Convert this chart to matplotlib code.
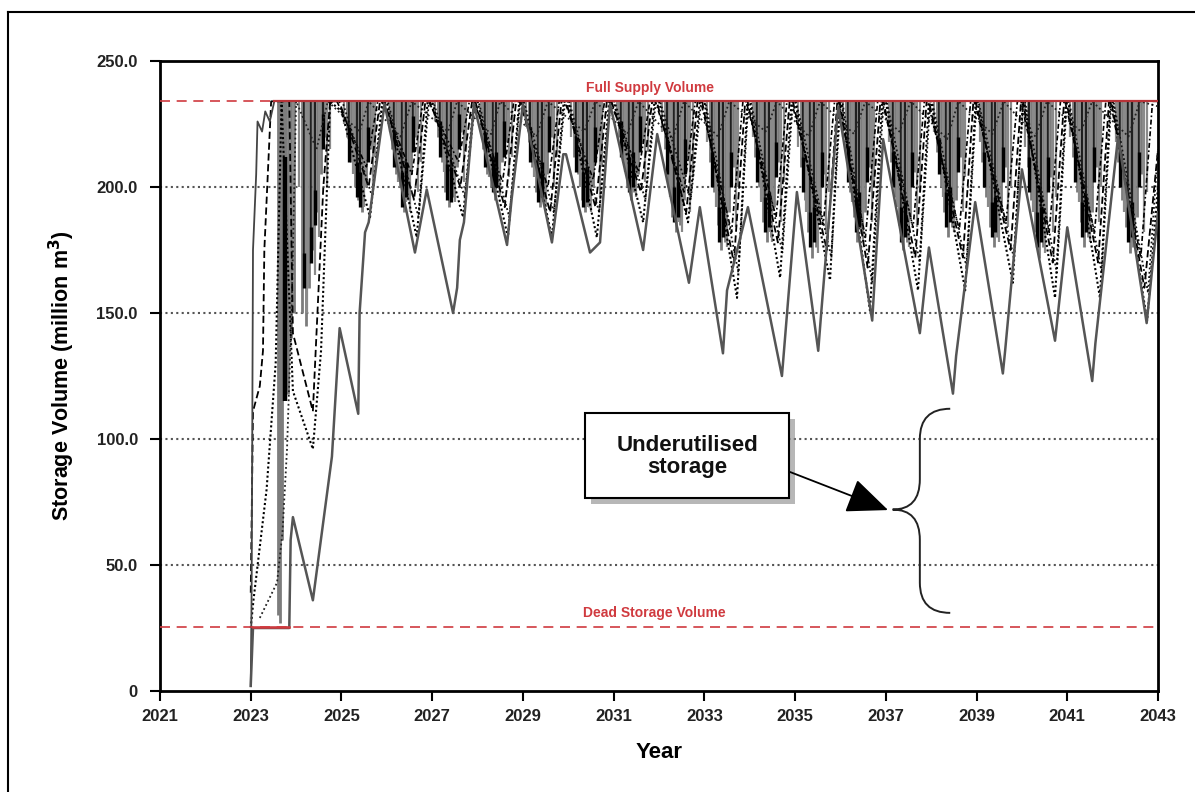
import matplotlib
matplotlib.use('Agg')
import matplotlib.pyplot as plt
from matplotlib.path import Path
from matplotlib.patches import PathPatch, Rectangle
from matplotlib.lines import Line2D
import matplotlib.patheffects as pe

plt.rcParams['font.family'] = ['Liberation Sans', 'DejaVu Sans']
plt.rcParams['font.weight'] = 'bold'

# ---------------- data ----------------
full_supply = 234.0
dead_storage = 25.5

# lowest trace (solid grey)
min_t = [2023.00, 2023.05, 2023.85, 2023.88, 2023.93, 2024.37, 2024.79, 2024.96, 2025.37, 2025.40,
         2025.52, 2025.60, 2025.95, 2026.62, 2026.88, 2027.46, 2027.55, 2027.61, 2027.70, 2027.92,
         2028.65, 2028.75, 2029.00, 2029.64, 2029.89, 2029.95, 2030.48, 2030.70, 2030.92, 2031.65,
         2031.96, 2032.66, 2032.90, 2033.41, 2033.50, 2033.96, 2034.71, 2035.04, 2035.51, 2035.58,
         2035.95, 2036.70, 2036.94, 2037.75, 2037.95, 2038.48, 2038.55, 2038.97, 2039.58, 2039.63,
         2040.00, 2040.73, 2041.00, 2041.55, 2041.62, 2042.12, 2042.75, 2043.00]
min_v = [2, 25, 25, 60, 69, 36, 93, 144, 110, 150,
         182, 186, 233, 174, 199, 150, 160, 179, 186, 233,
         177, 195, 233, 178, 213, 213, 174, 178, 233, 175,
         221, 162, 192, 134, 159, 192, 125, 198, 135, 151,
         232, 147, 219, 142, 176, 118, 133, 194, 126, 135,
         207, 139, 184, 123, 138, 220, 146, 190]

# highest trace (solid)
max_t = [2023.00, 2023.02, 2023.05, 2023.12, 2023.15, 2023.25, 2023.32, 2023.42, 2023.52]
max_v = [2, 40, 175, 205, 226, 222, 230, 226, 234]

# second-lowest trace (dotted)
lo2_t = [2023.00, 2023.06, 2023.35, 2023.55, 2023.68, 2023.93, 2024.37, 2024.55, 2024.75, 2025.00,
         2025.63, 2025.90, 2026.00, 2026.66, 2026.90, 2027.00, 2027.68, 2027.92, 2028.00, 2028.67,
         2028.92, 2029.00, 2029.64, 2029.90, 2030.00, 2030.63, 2030.90, 2031.00, 2031.65, 2031.90,
         2032.00, 2032.64, 2032.90, 2033.00, 2033.72, 2033.95, 2034.00, 2034.67, 2034.92, 2035.00,
         2035.77, 2035.98, 2036.02, 2036.65, 2036.92, 2037.00, 2037.71, 2037.95, 2038.00, 2038.75,
         2038.98, 2039.02, 2039.80, 2040.02, 2040.05, 2040.73, 2040.97, 2041.02, 2041.72, 2041.95,
         2042.00, 2042.76, 2043.00]
lo2_v = [25, 36, 80, 130, 234, 119, 96, 135, 234, 230,
         188, 234, 234, 180, 234, 234, 188, 234, 234, 180,
         234, 234, 180, 234, 234, 180, 234, 234, 186, 234,
         234, 186, 234, 234, 156, 234, 234, 164, 234, 234,
         163, 234, 234, 151, 234, 234, 159, 234, 234, 159,
         234, 234, 162, 234, 234, 156, 234, 234, 156, 234,
         234, 147, 200]

# companion dotted trace just inside the second-lowest one
lo2b_t = [2024.80, 2025.02, 2025.68, 2025.92, 2026.02, 2026.70, 2026.93, 2027.02, 2027.72, 2027.95,
          2028.02, 2028.70, 2028.94, 2029.02, 2029.68, 2029.93, 2030.02, 2030.68, 2030.93, 2031.02,
          2031.70, 2031.93, 2032.02, 2032.70, 2032.93, 2033.02, 2033.75, 2033.97, 2034.02, 2034.72,
          2034.95, 2035.02, 2035.80, 2036.00, 2036.04, 2036.70, 2036.95, 2037.02, 2037.75, 2037.98,
          2038.02, 2038.78, 2039.00, 2039.04, 2039.82, 2040.03, 2040.07, 2040.77, 2040.99, 2041.04,
          2041.76, 2041.97, 2042.02, 2042.78, 2043.00]
lo2b_v = [234, 234, 196, 234, 234, 188, 234, 234, 196, 234,
          234, 188, 234, 234, 190, 234, 234, 190, 234, 234,
          195, 234, 234, 195, 234, 234, 166, 234, 234, 174,
          234, 234, 172, 234, 234, 162, 234, 234, 170, 234,
          234, 168, 234, 234, 172, 234, 234, 166, 234, 234,
          166, 234, 234, 158, 215]

# third trace (dashed)
lo3_t = [2023.00, 2023.05, 2023.20, 2023.27, 2023.30, 2023.45, 2023.85, 2023.93, 2024.37, 2024.60,
         2024.75, 2024.95, 2025.60, 2025.85, 2025.95, 2026.60, 2026.85, 2026.95, 2027.62, 2027.88,
         2027.95, 2028.60, 2028.85, 2028.95, 2029.60, 2029.85, 2029.95, 2030.60, 2030.85, 2030.95,
         2031.60, 2031.85, 2031.95, 2032.60, 2032.85, 2032.95, 2033.65, 2033.90, 2033.95, 2034.62,
         2034.88, 2034.95, 2035.70, 2035.93, 2035.98, 2036.60, 2036.88, 2036.95, 2037.65, 2037.90,
         2037.95, 2038.70, 2038.93, 2038.98, 2039.75, 2039.98, 2040.02, 2040.68, 2040.93, 2040.98,
         2041.68, 2041.92, 2041.97, 2042.70, 2043.00]
lo3_v = [39, 111, 121, 135, 175, 234, 234, 142, 111, 200,
         234, 234, 200, 234, 234, 195, 234, 234, 200, 234,
         234, 192, 234, 234, 190, 234, 234, 192, 234, 234,
         198, 234, 234, 190, 234, 234, 170, 234, 234, 178,
         234, 234, 175, 234, 234, 168, 234, 234, 172, 234,
         234, 172, 234, 234, 175, 234, 234, 170, 234, 234,
         170, 234, 234, 160, 215]

# fourth trace (dash-dot)
lo5_t = [2024.90, 2025.55, 2025.80, 2025.92, 2026.55, 2026.80, 2026.92, 2027.58, 2027.82, 2027.92,
         2028.55, 2028.80, 2028.92, 2029.55, 2029.80, 2029.92, 2030.55, 2030.80, 2030.92, 2031.55,
         2031.80, 2031.92, 2032.55, 2032.80, 2032.92, 2033.60, 2033.85, 2033.92, 2034.58, 2034.82,
         2034.92, 2035.62, 2035.87, 2035.95, 2036.55, 2036.82, 2036.92, 2037.60, 2037.85, 2037.92,
         2038.62, 2038.87, 2038.95, 2039.65, 2039.90, 2039.98, 2040.60, 2040.85, 2040.95, 2041.60,
         2041.85, 2041.95, 2042.62, 2042.88, 2043.00]
lo5_v = [234, 208, 234, 234, 205, 234, 234, 210, 234, 234,
         202, 234, 234, 200, 234, 234, 203, 234, 234, 206,
         234, 234, 198, 234, 234, 182, 234, 234, 188, 234,
         234, 185, 234, 234, 180, 234, 234, 184, 234, 234,
         183, 234, 234, 186, 234, 234, 182, 234, 234, 182,
         234, 234, 172, 234, 234]

# upper dotted trace (small dips just below full supply)
lo4_t = [2023.20, 2023.58, 2023.70, 2023.80, 2023.90, 2024.00, 2024.45, 2024.70, 2025.40, 2025.60,
         2026.30, 2026.55, 2027.35, 2027.55, 2028.30, 2028.50, 2029.30, 2029.55, 2030.35, 2030.60,
         2031.30, 2031.55, 2032.30, 2032.55, 2033.30, 2033.55, 2034.35, 2034.60, 2035.30, 2035.55,
         2036.30, 2036.55, 2037.30, 2037.55, 2038.35, 2038.60, 2039.35, 2039.60, 2040.30, 2040.55,
         2041.30, 2041.55, 2042.35, 2042.60, 2043.00]
lo4_v = [29, 43, 63, 96, 150, 234, 215, 234, 222, 234,
         220, 234, 222, 234, 221, 234, 220, 234, 222, 234,
         221, 234, 219, 234, 220, 234, 222, 234, 220, 234,
         221, 234, 222, 234, 219, 234, 221, 234, 220, 234,
         222, 234, 220, 234, 232]

# early filling period: grey and black vertical jumps
early_bar_t = [2023.60, 2023.65, 2023.70, 2023.82, 2023.88, 2023.95]
early_bar_lo = [30, 27, 60, 118, 140, 150]
early_black_t = [2023.76]
early_black_lo = [115]
early_black_hi = [212]

# monthly jumps inside each dry season – lows per year
bar_years = list(range(2024, 2043))
bar_months_grey = [1.5, 2.5, 3.5, 4.5, 5.5, 6.5, 7.5]
grey_lows = [
    [150, 145, 160, 175, 190, 205, 220],
    [220, 210, 200, 195, 190, 200, 215],
    [215, 205, 200, 190, 195, 205, 220],
    [220, 210, 198, 192, 196, 208, 222],
    [215, 205, 200, 195, 200, 210, 218],
    [218, 208, 198, 192, 194, 205, 220],
    [212, 205, 195, 190, 192, 200, 215],
    [220, 210, 200, 195, 198, 205, 218],
    [215, 200, 188, 182, 185, 195, 212],
    [210, 198, 185, 175, 178, 190, 208],
    [212, 200, 186, 178, 180, 192, 210],
    [208, 195, 182, 172, 176, 188, 205],
    [212, 198, 188, 178, 182, 190, 208],
    [210, 196, 185, 175, 178, 188, 206],
    [214, 200, 190, 180, 184, 195, 212],
    [210, 196, 184, 176, 180, 190, 208],
    [208, 195, 182, 172, 176, 186, 204],
    [212, 198, 186, 176, 180, 190, 208],
    [210, 195, 184, 174, 176, 188, 205],
]
bar_months_grey_b = [0.8, 3.0, 5.0, 6.0, 8.3, 9.0]
grey_lows_b = [
    [200, 150, 165, 180, 200, 215],
    [225, 205, 195, 192, 200, 212],
    [222, 202, 194, 190, 198, 210],
    [226, 206, 196, 194, 202, 214],
    [222, 204, 198, 196, 204, 212],
    [224, 204, 194, 192, 200, 212],
    [220, 200, 192, 190, 196, 208],
    [226, 206, 198, 196, 202, 214],
    [222, 196, 186, 182, 190, 204],
    [218, 192, 180, 176, 184, 200],
    [220, 194, 182, 178, 186, 202],
    [216, 190, 178, 174, 182, 198],
    [220, 194, 184, 178, 186, 200],
    [218, 192, 180, 176, 184, 198],
    [222, 196, 186, 182, 190, 204],
    [218, 192, 180, 178, 184, 200],
    [216, 190, 178, 174, 182, 196],
    [220, 194, 182, 178, 186, 200],
    [218, 190, 180, 176, 182, 198],
]
bar_months_black = [2.0, 4.0, 5.0, 7.0]
black_lows = [
    [160, 170, 185, 215],
    [210, 196, 192, 210],
    [208, 192, 196, 214],
    [212, 195, 194, 215],
    [208, 198, 200, 212],
    [210, 194, 196, 214],
    [206, 192, 194, 210],
    [212, 198, 200, 214],
    [205, 186, 188, 205],
    [200, 178, 180, 200],
    [202, 182, 184, 204],
    [198, 176, 178, 200],
    [202, 182, 184, 202],
    [200, 178, 180, 200],
    [205, 184, 186, 206],
    [200, 180, 182, 202],
    [198, 176, 178, 198],
    [202, 180, 182, 202],
    [200, 178, 180, 200],
]

x_ticks = list(range(2021, 2044, 2))
y_ticks = [0, 50, 100, 150, 200, 250]
y_tick_labels = ['0', '50.0', '100.0', '150.0', '200.0', '250.0']

# ---------------- figure ----------------
W, H, DPI = 1195, 792, 100
fig = plt.figure(figsize=(W / DPI, H / DPI), dpi=DPI)
ax = fig.add_axes([160 / W, 1 - 691 / H, (1158 - 160) / W, (691 - 61) / H])

RED = '#d03a3f'
GREY = '#7c7c7c'

# grid
for yv in [50, 100, 150, 200]:
    ax.axhline(yv, color='#555555', lw=1.5, ls=(0, (1, 1.6)), zorder=1)

# grey / black monthly jumps
for yr, lows in zip(bar_years, grey_lows):
    for m, lo in zip(bar_months_grey, lows):
        ax.vlines(yr + m / 12.0, lo, full_supply, color=GREY, lw=2.0, zorder=2)
for yr, lows in zip(bar_years, grey_lows_b):
    for m, lo in zip(bar_months_grey_b, lows):
        ax.vlines(yr + m / 12.0, lo, full_supply, color='#8a8a8a', lw=1.6, zorder=2)
for yr, lows in zip(bar_years, black_lows):
    for m, lo in zip(bar_months_black, lows):
        ax.vlines(yr + m / 12.0, lo, full_supply, color='black', lw=1.1, zorder=2.5)
        ax.vlines(yr + m / 12.0, lo, lo + 14, color='black', lw=2.4, zorder=2.5)
ax.vlines(early_bar_t, early_bar_lo, full_supply, color=GREY, lw=2.0, zorder=2)
ax.vlines(early_black_t, early_black_lo, early_black_hi, color='black', lw=3.2, zorder=2.6)
ax.vlines(early_black_t, early_black_hi, full_supply, color=GREY, lw=3.2, zorder=2.6)

# traces
ax.plot(lo4_t, lo4_v, color='#222222', lw=1.3, ls=(0, (1, 1.5)), zorder=3)
ax.plot(lo5_t, lo5_v, color='black', lw=1.2, ls=(0, (3, 1.5, 1, 1.5)), zorder=3)
ax.plot(lo3_t, lo3_v, color='black', lw=1.3, ls=(0, (4, 2)), zorder=3)
ax.plot(lo2b_t, lo2b_v, color='#111111', lw=1.3, ls=(0, (1, 1.4)), zorder=3)
ax.plot(lo2_t, lo2_v, color='black', lw=1.5, ls=(0, (1, 1.2)), zorder=3)
ax.plot(max_t, max_v, color='#444444', lw=1.3, zorder=3)
ax.plot(min_t, min_v, color='#555555', lw=1.8, zorder=3.5)

# full supply / dead storage lines
ax.axhline(full_supply, color=RED, lw=1.2, ls=(0, (6, 4)), zorder=4)
ax.axhline(dead_storage, color=RED, lw=1.2, ls=(0, (6, 4)), zorder=4)
ax.plot([max_t[-1], 2043], [full_supply, full_supply], color='#b83338', lw=1.6, zorder=4.5)
ax.plot([min_t[1], min_t[2]], [dead_storage, dead_storage], color=RED, lw=1.8, zorder=4.5)

ax.text(2031.8, full_supply + 2.5, 'Full Supply Volume', color=RED, fontsize=10,
        fontweight='bold', ha='center', va='bottom', zorder=6)
ax.text(2031.9, dead_storage + 2.5, 'Dead Storage Volume', color=RED, fontsize=10,
        fontweight='bold', ha='center', va='bottom', zorder=6)

# axes styling
ax.set_xlim(2021, 2043)
ax.set_ylim(0, 250)
ax.set_xticks(x_ticks)
ax.set_xticklabels([str(x) for x in x_ticks])
ax.set_yticks(y_ticks)
ax.set_yticklabels(y_tick_labels)
ax.tick_params(direction='out', length=7, width=1.5, labelsize=12)
ax.tick_params(axis='y', pad=9)
ax.tick_params(axis='x', pad=6)
for lab in ax.get_xticklabels() + ax.get_yticklabels():
    lab.set_fontweight('bold')
    lab.set_color('#222222')
for sp in ax.spines.values():
    sp.set_linewidth(2.0)
ax.set_xlabel('Year', fontsize=16, fontweight='bold', labelpad=13)
ax.set_ylabel('Storage Volume (million m$^\\mathbf{3}$)', fontsize=15.5, fontweight='bold', labelpad=14)

# annotation box with shadow
box = Rectangle((2030.37, 76.6), 4.5, 33.7, facecolor='white', edgecolor='black', lw=1.5, zorder=7)
box.set_path_effects([pe.SimplePatchShadow(offset=(4, -4), shadow_rgbFace='#888888', alpha=0.6), pe.Normal()])
ax.add_patch(box)
ax.text(2032.62, 93.0, 'Underutilised\nstorage', ha='center', va='center', fontsize=16,
        fontweight='bold', color='#111111', linespacing=1.05, zorder=8)
ax.annotate('', xy=(2037.05, 71.8), xytext=(2034.89, 86.9),
            arrowprops=dict(arrowstyle='-|>,head_length=1.3,head_width=0.55', color='black',
                            lw=1.3, mutation_scale=20, shrinkA=0, shrinkB=0), zorder=8)

# curly brace
bx_v, bx_end, bx_tip = 2037.75, 2038.42, 2037.15
verts = [(bx_end, 112), (bx_v, 112), (bx_v, 100),
         (bx_v, 84),
         (bx_v, 72), (bx_tip, 72),
         (bx_v, 72), (bx_v, 60),
         (bx_v, 43),
         (bx_v, 31), (bx_end, 31)]
codes = [Path.MOVETO, Path.CURVE3, Path.CURVE3,
         Path.LINETO,
         Path.CURVE3, Path.CURVE3,
         Path.CURVE3, Path.CURVE3,
         Path.LINETO,
         Path.CURVE3, Path.CURVE3]
ax.add_patch(PathPatch(Path(verts, codes), facecolor='none', edgecolor='#222222', lw=1.4, zorder=7))

# outer frame (left and top edges)
fig.add_artist(Line2D([8 / W, 8 / W], [0, 1 - 12 / H], color='black', lw=1.5))
fig.add_artist(Line2D([8 / W, 1], [1 - 12 / H, 1 - 12 / H], color='black', lw=1.5))

fig.savefig('out.png', dpi=DPI)
